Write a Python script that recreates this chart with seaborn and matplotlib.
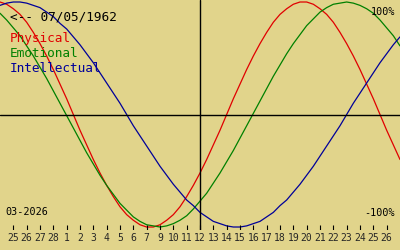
import numpy as np
import pandas as pd
import matplotlib
matplotlib.use("Agg")
import matplotlib.pyplot as plt
import seaborn as sns

# Day offsets (half-day steps) across the 30-day window
days = np.arange(0, 30.01, 0.5)

# Biorhythm values in percent
physical = [100,98,94,89,82,73,63,52,40,27,14,0,-14,-27,-40,-52,-63,-73,-82,-89,-94,-98,-100,-100,-98,-94,-89,-82,-73,-63,-52,-40,-27,-14,0,14,27,40,52,63,73,82,89,94,98,100,100,98,94,89,82,73,63,52,40,27,14,0,-14,-27,-40]
emotional = [90,84,77,70,61,52,42,32,21,10,-1,-12,-23,-34,-44,-54,-63,-71,-79,-85,-91,-95,-98,-99,-100,-99,-97,-94,-90,-84,-77,-70,-61,-52,-42,-32,-21,-10,1,12,23,34,44,54,63,71,79,85,91,95,98,99,100,99,97,94,90,84,77,70,61]
intellectual = [97,99,100,100,99,97,95,91,87,81,76,69,62,54,46,37,28,19,10,0,-10,-19,-28,-37,-46,-54,-62,-69,-76,-81,-87,-91,-95,-97,-99,-100,-100,-99,-97,-95,-91,-87,-81,-76,-69,-62,-54,-46,-37,-28,-19,-10,0,10,19,28,37,46,54,62,69]

series_names = ["Physical", "Emotional", "Intellectual"]
series_colors = ["#E00000", "#008000", "#000099"]

tick_labels = ["25", "26", "27", "28", "1", "2", "3", "4", "5", "6", "7", "9",
               "10", "11", "12", "13", "14", "15", "16", "17", "18", "19", "20",
               "21", "22", "23", "24", "25", "26"]
today_index = 15
birth_text = "<-- 07/05/1962"
month_text = "03-2026"

bg = "#E1D48B"
sns.set_style("white", {"axes.facecolor": bg, "figure.facecolor": bg})
plt.rcParams["font.family"] = ["DejaVu Sans Mono", "DejaVu Sans"]

df = pd.DataFrame({
    "day": np.concatenate([days, days, days]),
    "value": physical + emotional + intellectual,
    "series": np.repeat(series_names, len(days)),
})

fig = plt.figure(figsize=(4, 2.5), dpi=100)
fig.patch.set_facecolor(bg)
ax = fig.add_axes([0, 0.08, 1, 0.92])
ax.set_facecolor(bg)

sns.lineplot(data=df, x="day", y="value", hue="series", hue_order=series_names,
             palette=series_colors, linewidth=0.9, ax=ax, legend=False,
             estimator=None, sort=False)

ax.axhline(0, color="black", lw=1.0)
ax.axvline(today_index, color="black", lw=1.0)

ax.set_xlim(0, 30)
ax.set_ylim(-102.66, 101.78)
tick_pos = list(range(1, len(tick_labels) + 1))
ax.set_xticks(tick_pos)
ax.set_xticklabels(tick_labels, fontsize=7)
ax.set_yticks([])
ax.tick_params(axis="x", length=0, pad=2.0)
# small tick marks just above the labels
ax.vlines(tick_pos, 0, 5 / 230, transform=ax.get_xaxis_transform(),
          color="black", lw=0.8)
ax.set_xlabel("")
ax.set_ylabel("")
for s in ax.spines.values():
    s.set_visible(False)

def ftext(x, y, s, **kw):
    fig.text(x / 400, 1 - y / 250, s, **kw)

ftext(10, 17, birth_text, fontsize=9.2, color="black", va="center", ha="left")
for k, (name, col) in enumerate(zip(series_names, series_colors)):
    ftext(10, 38.5 + 15 * k, name, fontsize=9.2, color=col, va="center", ha="left")
ftext(5, 212, month_text, fontsize=7.3, color="black", va="center", ha="left")
ftext(395, 12, "100%", fontsize=7.3, color="black", va="center", ha="right")
ftext(395, 213, "-100%", fontsize=7.3, color="black", va="center", ha="right")

fig.savefig("out.png", dpi=100, facecolor=bg)
